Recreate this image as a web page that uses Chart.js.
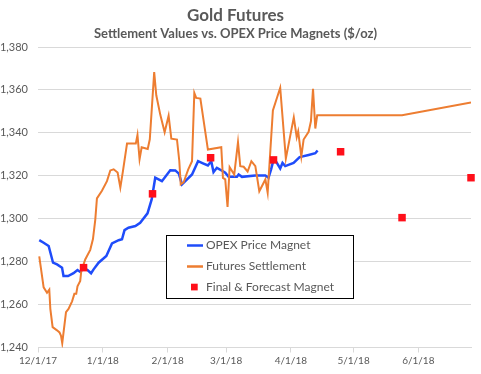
<!DOCTYPE html>
<html lang="en">
<head>
  <meta charset="UTF-8">
  <title>Gold Futures</title>
  <script src="https://cdn.jsdelivr.net/npm/chart.js"></script>
  <style>
    html, body { margin: 0; padding: 0; background: #fff; }
    #wrap { width: 481px; height: 374px; position: relative; }
  </style>
</head>
<body>
  <div id="wrap"><canvas id="goldChart"></canvas></div>

  <script>
    // x values are days counted from 12/1/17
    const tickDays = [0, 31, 62, 90, 121, 151, 182];
    const tickLabels = ['12/1/17', '1/1/18', '2/1/18', '3/1/18', '4/1/18', '5/1/18', '6/1/18'];

    const magnetDays = [0.6, 2.7, 5.1, 7.2, 9.1, 11.5, 12.2, 14.4, 17.0, 18.9, 20.2, 21.8, 23.7, 25.4, 26.6, 29.0,
      32.7, 35.4, 38.6, 40.2, 41.4, 43.3, 46.6, 48.9, 52.4, 54.4, 56.1, 59.3, 63.3, 65.7, 67.4, 68.9, 70.5,
      73.7, 76.6, 79.2, 81.3, 82.9, 84.0, 85.6, 88.5, 89.6, 91.2, 95.2, 96.0, 97.6, 104.0, 108.8, 110.3,
      111.5, 112.7, 114.0, 115.9, 117.0, 118.3, 122.3, 125.2, 129.5, 132.7, 133.8];
    const magnetValues = [1290, 1288.8, 1287.3, 1279.5, 1278.7, 1277.2, 1273.3, 1273.3, 1274.6, 1276.1, 1275.2, 1277, 1276.1, 1274.6, 1276.4, 1279.5,
      1282.6, 1288.5, 1290, 1290.4, 1294.7, 1295.8, 1296.6, 1298.1, 1302.5, 1309, 1319.1, 1317.5, 1322.6, 1322.5, 1321, 1316, 1317.5,
      1320.6, 1326.8, 1325.7, 1324.8, 1326.8, 1321.7, 1323.7, 1322.1, 1321.4, 1319.5, 1319.5, 1320.6, 1319.5, 1320.1, 1320.1, 1319.1,
      1322.9, 1327.4, 1326.5, 1323.4, 1326, 1324.5, 1326, 1328.7, 1329.7, 1330.5, 1331.8];

    const futuresDays = [0.6, 2.7, 4.3, 5.4, 5.9, 7.0, 9.1, 10.3, 11.0, 11.6, 13.4, 14.6, 16.3, 17.4, 18.3, 18.9,
      20.2, 20.7, 22.6, 25.0, 26.3, 27.4, 28.2, 30.6, 33.0, 34.6, 36.2, 38.1, 39.4, 40.7, 42.6, 46.8, 47.6,
      48.6, 49.6, 52.5, 53.5, 55.6, 56.6, 58.5, 60.6, 62.5, 63.8, 66.5, 67.6, 68.3, 69.7, 70.8, 71.9, 73.7,
      74.8, 75.7, 77.7, 81.3, 87.7, 88.5, 89.6, 90.7, 91.7, 93.9, 95.7, 96.8, 98.4, 100.3, 102.1, 104.0,
      105.9, 108.8, 109.9, 112.4, 115.9, 118.6, 122.4, 123.8, 124.5, 126.0, 127.1, 129.5, 130.6, 131.6,
      132.7, 133.6, 174.2, 207.2];
    const futuresValues = [1282.5, 1268, 1265.5, 1267, 1258, 1249.5, 1248, 1247, 1245.5, 1242, 1256.5, 1258, 1261.5, 1265, 1265, 1268.5,
      1271, 1275.5, 1281, 1285.5, 1290.5, 1299.5, 1309.5, 1313, 1317.5, 1322.5, 1323, 1321.5, 1314.5, 1322.5, 1335, 1335, 1339,
      1327.7, 1333.3, 1332.5, 1337, 1368.3, 1357.5, 1348.5, 1340.3, 1348, 1337.3, 1336.9, 1327, 1316, 1317, 1320, 1323, 1326.8,
      1358.6, 1356.3, 1356, 1332.2, 1333.3, 1319, 1318.3, 1305.5, 1324, 1320.6, 1335.6, 1324.5, 1324.2, 1322, 1326.8, 1324.5,
      1312.8, 1318.3, 1312.1, 1350.5, 1361, 1328, 1347.2, 1338, 1340.7, 1329, 1336.9, 1340.5, 1345.4, 1360.5,
      1342, 1348.2, 1348.2, 1354.2];

    const markerDays = [21.8, 54.8, 82.6, 112.7, 144.8, 174.2, 207.2];
    const markerValues = [1277.2, 1311.6, 1328.4, 1327.4, 1331.2, 1300.5, 1319.1];

    const seriesNames = ['OPEX Price Magnet', 'Futures Settlement', 'Final & Forecast Magnet'];

    const toPoints = (xs, ys) => xs.map((x, i) => ({ x: x, y: ys[i] }));

    const textColor = '#595959';
    const gridColor = '#d9d9d9';
    const font = 'Lato';

    // legend drawn inside the plot, boxed like the original
    const boxLegend = {
      id: 'boxLegend',
      afterDraw(chart) {
        const ctx = chart.ctx;
        const ds = chart.data.datasets;
        const left = 166.5, top = 235.5, w = 187, h = 63;
        ctx.save();
        ctx.fillStyle = '#fff';
        ctx.fillRect(left, top, w, h);
        ctx.strokeStyle = '#000';
        ctx.lineWidth = 1;
        ctx.strokeRect(left, top, w, h);
        ctx.font = '12px ' + font;
        ctx.textBaseline = 'middle';
        const rows = [245.5, 266.5, 287];
        ds.forEach((d, i) => {
          const y = rows[i];
          if (d.showLine === false) {
            ctx.fillStyle = d.backgroundColor;
            ctx.fillRect(191, y - 3.3, 6.7, 6.7);
          } else {
            ctx.strokeStyle = d.borderColor;
            ctx.lineWidth = 2.5;
            ctx.beginPath();
            ctx.moveTo(187, y);
            ctx.lineTo(203, y);
            ctx.stroke();
          }
          ctx.fillStyle = textColor;
          ctx.fillText(d.label, 206, y);
        });
        ctx.restore();
      }
    };

    const ctx = document.getElementById('goldChart').getContext('2d');
    const goldChart = new Chart(ctx, {
      type: 'line',
      data: {
        datasets: [
          {
            label: seriesNames[0],
            data: toPoints(magnetDays, magnetValues),
            borderColor: '#1f4cfa',
            borderWidth: 2.5,
            pointRadius: 0,
            tension: 0,
            order: 2
          },
          {
            label: seriesNames[1],
            data: toPoints(futuresDays, futuresValues),
            borderColor: '#ed7d31',
            borderWidth: 2,
            pointRadius: 0,
            tension: 0,
            order: 1
          },
          {
            label: seriesNames[2],
            data: toPoints(markerDays, markerValues),
            showLine: false,
            backgroundColor: '#ff0f1a',
            borderWidth: 0,
            pointStyle: 'rect',
            pointRadius: 5.3,
            clip: false,
            order: 0
          }
        ]
      },
      options: {
        responsive: true,
        maintainAspectRatio: false,
        animation: false,
        devicePixelRatio: 1,
        layout: { padding: { left: 0, right: 10, top: 0, bottom: 0 } },
        plugins: {
          legend: { display: false },
          tooltip: { enabled: false },
          title: {
            display: true,
            text: 'Gold Futures',
            color: textColor,
            font: { family: font, size: 17, weight: 'bold' },
            padding: { top: 5, bottom: 0 }
          },
          subtitle: {
            display: true,
            text: 'Settlement Values vs. OPEX Price Magnets ($/oz)',
            color: textColor,
            font: { family: font, size: 13, weight: 'bold' },
            padding: { top: 1, bottom: 5 }
          }
        },
        scales: {
          x: {
            type: 'linear',
            min: 0,
            max: 207.2,
            afterFit(scale) { scale.height = 26.5; },
            afterBuildTicks(scale) {
              scale.ticks = tickDays.map(v => ({ value: v }));
            },
            ticks: {
              autoSkip: false,
              maxRotation: 0,
              color: textColor,
              font: { family: font, size: 10 },
              padding: 2,
              callback: (value, index) => tickLabels[index]
            },
            grid: { drawOnChartArea: false, drawTicks: true, tickLength: 5, color: gridColor },
            border: { display: true, color: gridColor }
          },
          y: {
            min: 1240,
            max: 1380,
            afterFit(scale) { scale.width = 38; },
            ticks: {
              stepSize: 20,
              color: textColor,
              font: { family: font, size: 11 },
              padding: 10,
              callback: (value) => value.toLocaleString('en-US')
            },
            grid: { color: gridColor, drawTicks: false },
            border: { display: false }
          }
        }
      },
      plugins: [boxLegend]
    });
  </script>
</body>
</html>
